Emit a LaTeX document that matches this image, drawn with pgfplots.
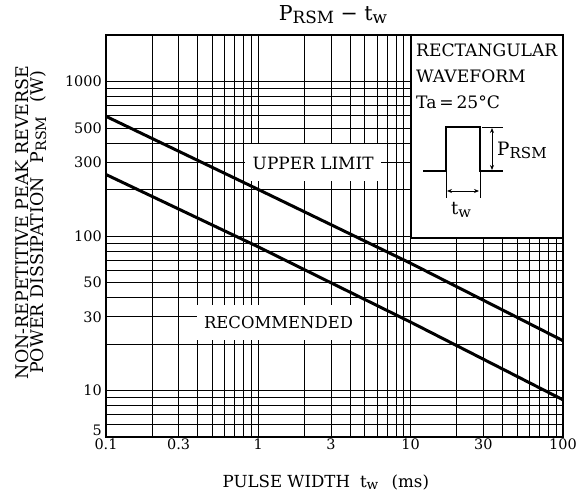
\documentclass[border=0pt]{standalone}
\usepackage{fontspec}
\setmainfont{DejaVu Serif}
\usepackage{graphicx}
\usepackage{pgfplots}
\pgfplotsset{compat=1.18}
\usetikzlibrary{arrows.meta}
\newcommand{\sub}[1]{\raisebox{-0.3ex}{\scalebox{0.82}{#1}}}
\begin{document}
\begin{tikzpicture}
\path (-106bp,-67bp) rectangle (481bp,437bp);
\begin{axis}[
 at={(0bp,0bp)}, anchor=south west, scale only axis,
 width=457bp, height=402bp,
 xmode=log, ymode=log,
 xmin=0.1, xmax=100, ymin=5, ymax=2000,
 xtick={0.1,0.3,1,3,10,30,100},
 xticklabels={0.1,0.3,1,3,10,30,100},
 ytick={5,10,30,50,100,300,500,1000},
 yticklabels={\raisebox{1bp}[0pt][0pt]{5},10,30,50,100,300,500,1000},
 minor xtick={0.2,0.4,0.5,0.6,0.7,0.8,0.9,2,4,5,6,7,8,9,20,40,50,60,70,80,90},
 minor ytick={6,7,8,9,20,40,60,70,80,90,200,400,600,700,800,900},
 grid=both,
 major grid style={black, line width=0.75bp},
 minor grid style={black, line width=0.65bp},
 major tick length=0pt, minor tick length=0pt,
 axis line style={line width=1.6bp},
 tick label style={font=\fontsize{14.5}{14.5}\selectfont},
 xticklabel style={inner sep=0pt, yshift=-2bp},
 yticklabel style={inner sep=0pt, xshift=-4bp},
 xlabel={PULSE WIDTH\hspace{0.6em}t\sub{w}\hspace{0.8em}(ms)},
 xlabel style={at={(axis description cs:0.481,-0.112)}, anchor=center, font=\fontsize{16.7}{16.7}\selectfont},
 ylabel={NON-REPETITIVE PEAK REVERSE\\POWER DISSIPATION\hspace{0.8em}P\sub{RSM}\hspace{0.8em}(W)},
 ylabel style={at={(axis description cs:-0.164,0.534)}, anchor=center, align=center, inner sep=0pt, font=\fontsize{17.5}{15}\selectfont},
]
\addplot[black, line width=3bp] coordinates {(0.1,595) (1,200) (10,66.6) (100,21)};
\addplot[black, line width=3bp] coordinates {(0.1,250) (1,85) (10,27.7) (100,8.7)};
\node[fill=white, inner sep=0pt, minimum width=136bp, minimum height=37bp, font=\fontsize{17}{17}\selectfont] at (axis cs:2.29,297) {UPPER LIMIT};
\node[fill=white, inner sep=0pt, minimum width=163bp, minimum height=35bp, font=\fontsize{16.5}{16.5}\selectfont] at (axis cs:1.357,27.35) {RECOMMENDED};
\end{axis}
% inset
\fill[white] (305bp,199bp) rectangle (457bp,402bp);
\draw[line width=1.4bp] (305bp,402bp) -- (305bp,199bp) -- (457bp,199bp);
\draw[line width=1.6bp] (304bp,402bp) -- (457bp,402bp) -- (457bp,198bp);
\begin{scope}[font=\fontsize{17.2}{17.2}\selectfont]
\node[anchor=base west, inner sep=0pt] at (310bp,380bp) {RECTANGULAR};
\node[anchor=base west, inner sep=0pt] at (310bp,354bp) {WAVEFORM};
\node[anchor=base west, inner sep=0pt] at (310bp,328bp) {Ta\,=\,25°C};
\draw[line width=2.6bp] (317bp,266bp) -- (340bp,266bp) -- (340bp,310bp) -- (374bp,310bp) -- (374bp,266bp) -- (397bp,266bp);
\draw[line width=0.8bp] (376bp,310bp) -- (397bp,310bp);
\draw[line width=0.8bp, {Stealth[length=5bp,width=4bp]}-{Stealth[length=5bp,width=4bp]}] (386bp,309bp) -- (386bp,267bp);
\draw[line width=0.8bp] (340bp,266bp) -- (340bp,239bp);
\draw[line width=0.8bp] (374bp,266bp) -- (374bp,239bp);
\draw[line width=0.8bp, {Stealth[length=5bp,width=4bp]}-{Stealth[length=5bp,width=4bp]}] (341bp,246bp) -- (373bp,246bp);
\node[anchor=west, inner sep=0pt, font=\fontsize{18.5}{18.5}\selectfont] at (391bp,287bp) {P\sub{RSM}};
\node[inner sep=0pt, font=\fontsize{18}{18}\selectfont] at (355bp,227bp) {t\sub{w}};
\end{scope}
\node[font=\fontsize{20.6}{20.6}\selectfont, inner sep=0pt] at (227bp,422bp) {P\sub{RSM} − t\sub{w}};
\end{tikzpicture}
\end{document}
